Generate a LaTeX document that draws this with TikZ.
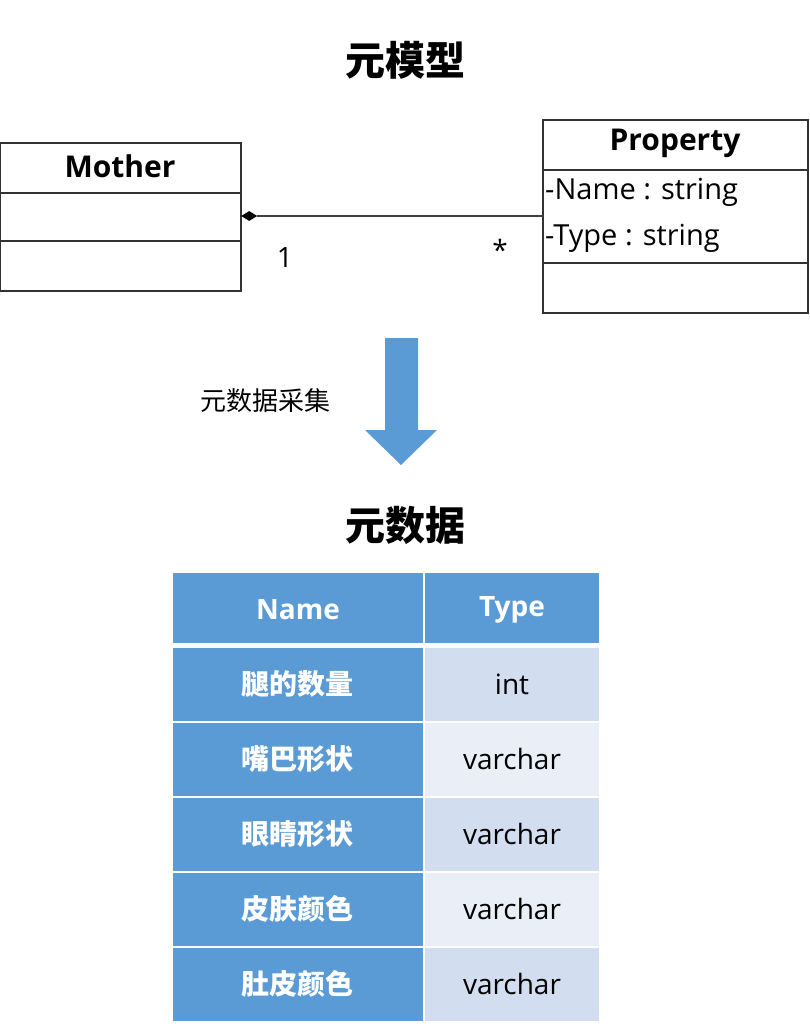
\documentclass[tikz,border=0pt]{standalone}
\usepackage{fontspec}
\setmainfont{Open Sans}
\newfontfamily\cjk{Noto Sans CJK SC}
\usetikzlibrary{shapes.geometric}
\definecolor{blu}{HTML}{5B9BD5}
\definecolor{lc1}{HTML}{D2DEEF}
\definecolor{lc2}{HTML}{EAEFF7}
\begin{document}
\begin{tikzpicture}[x=1pt,y=-1pt,
 box/.style={draw=black!80,line width=1.2pt},
 lc/.style={fill=blu,draw=white,line width=2pt},
 tx/.style={font=\fontsize{28}{30}\selectfont\bfseries\cjk,text=white},
 vt/.style={font=\fontsize{28}{30}\selectfont,text=black}]
\useasboundingbox (0,0) rectangle (810,1027);
\node[font=\fontsize{40}{44}\selectfont\bfseries\cjk] (t1) at (405,60) {元模型};
% Mother
\draw[box] (0,143) rectangle (241,291);
\draw[box] (0,193) -- (241,193) (0,241) -- (241,241);
\node[font=\fontsize{30}{32}\selectfont\bfseries] (m) at (120,166) {Mother};
\coordinate (md) at (241,216);
% Property
\draw[box] (543,120) rectangle (808,313);
\draw[box] (543,170) -- (808,170) (543,263) -- (808,263);
\node[font=\fontsize{30}{32}\selectfont\bfseries] (p) at (675,143) {Property};
\node[font=\fontsize{29}{32}\selectfont,anchor=west,inner sep=0] (a1) at (545,192) {-Name : string};
\node[font=\fontsize{29}{32}\selectfont,anchor=west,inner sep=0] (a2) at (545,238) {-Type : string};
\coordinate (pd) at (543,216);
\node[diamond,fill=black,minimum width=16pt,minimum height=10pt,inner sep=0,anchor=west] (dia) at (md) {};
\draw[line width=1.5pt,black!75] (dia.east) -- (pd);
\node[font=\fontsize{28}{30}\selectfont] (l1) at (285,258) {1};
\node[font=\fontsize{28}{30}\selectfont] (l2) at (500,250) {*};
% arrow
\fill[blu] (385,338) -- (418,338) -- (418,430) -- (437,430) -- (401,465) -- (365,430) -- (385,430) -- cycle;
\node[font=\fontsize{26}{28}\selectfont\cjk] (al) at (265,401) {元数据采集};
\node[font=\fontsize{40}{44}\selectfont\bfseries\cjk] (t2) at (405,525) {元数据};
% table
\draw[lc] (172,572) rectangle (424,644);
\draw[lc] (424,572) rectangle (600,644);
\node[tx,font=\fontsize{28}{30}\selectfont\bfseries] at (298,610) {Name};
\node[tx,font=\fontsize{28}{30}\selectfont\bfseries] at (512,610) {Type};
\foreach \n/\v/\c [count=\i from 0] in {腿的数量/int/lc1,嘴巴形状/varchar/lc2,眼睛形状/varchar/lc1,皮肤颜色/varchar/lc2,肚皮颜色/varchar/lc1}{
 \pgfmathsetmacro\ya{647+75*\i}
 \pgfmathsetmacro\yb{\ya+75}
 \draw[lc] (172,\ya) rectangle (424,\yb);
 \draw[fill=\c,draw=white,line width=2pt] (424,\ya) rectangle (600,\yb);
 \node[tx] at (297,\ya+37) {\n};
 \node[vt] at (512,\ya+37) {\v};
}
\end{tikzpicture}
\end{document}
